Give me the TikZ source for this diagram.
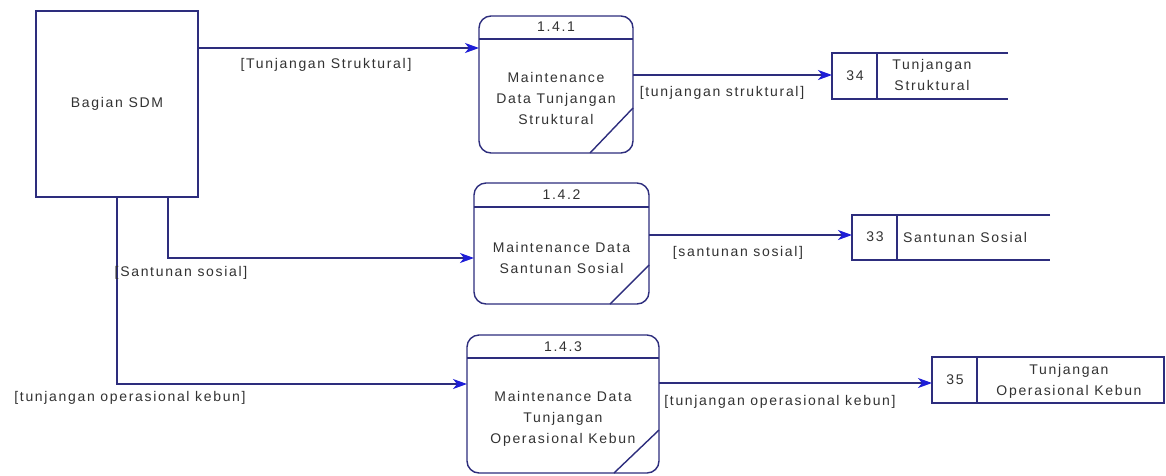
\documentclass[tikz,border=0pt]{standalone}
\usepackage{fontspec}
\setmainfont{Liberation Sans}[LetterSpace=12]
\usetikzlibrary{arrows.meta,calc}
\definecolor{ln}{RGB}{45,45,125}
\definecolor{ah}{RGB}{30,30,215}
\definecolor{tx}{RGB}{50,50,50}
\begin{document}
\begin{tikzpicture}[x=1pt,y=-1pt,
  every node/.style={font=\fontsize{14}{21}\selectfont, text=tx, inner sep=0pt, outer sep=0pt},
  line/.style={draw=ln, line width=1.4pt},
  flow/.style={draw=ln, line width=1.4pt, -{Stealth[length=14pt,width=10pt,inset=4pt,color=ah]}},
  proc/.style={draw=ln, line width=1.4pt, rectangle, rounded corners=12pt},
  ent/.style={draw=ln, line width=1.4pt, rectangle},
  store/.style={rectangle}]
\useasboundingbox (0,0) rectangle (1166,475);
\fill[white] (0,0) rectangle (1166,475);

% external entity
\node[ent, minimum width=162pt, minimum height=186pt] (sdm) at (117,104) {Bagian SDM};

% processes
\node[proc, minimum width=154pt, minimum height=137pt] (p1) at (556,84.5) {};
\draw[line] ($(p1.north west)+(0,23)$) -- ($(p1.north east)+(0,23)$);
\draw[line] ($(p1.south east)+(-43,0)$) -- ($(p1.south east)+(0,-45)$);
\node (p1id) at (556,27) {1.4.1};
\node[align=center] (p1t) at (556,98) {Maintenance\\Data Tunjangan\\Struktural};

\node[proc, minimum width=175pt, minimum height=121pt] (p2) at (561.5,243.5) {};
\draw[line] ($(p2.north west)+(0,24)$) -- ($(p2.north east)+(0,24)$);
\draw[line] ($(p2.south east)+(-39,0)$) -- ($(p2.south east)+(0,-39)$);
\node (p2id) at (561.5,195) {1.4.2};
\node[align=center] (p2t) at (561.5,257.5) {Maintenance Data\\Santunan Sosial};

\node[proc, minimum width=192pt, minimum height=138pt] (p3) at (563,404) {};
\draw[line] ($(p3.north west)+(0,23)$) -- ($(p3.north east)+(0,23)$);
\draw[line] ($(p3.south east)+(-45,0)$) -- ($(p3.south east)+(0,-43)$);
\node (p3id) at (563,347) {1.4.3};
\node[align=center] (p3t) at (563,419) {Maintenance Data\\Tunjangan\\Operasional Kebun};

% data stores
\node[store, minimum width=176pt, minimum height=46pt] (s34) at (920,76) {};
\draw[line] (s34.north east) -- (s34.north west) -- (s34.south west) -- (s34.south east);
\draw[line] ($(s34.north west)+(45,0)$) -- ($(s34.south west)+(45,0)$);
\node (s34n) at (855,76) {34};
\node[align=center] (s34t) at (932,75) {Tunjangan\\Struktural};

\node[store, minimum width=198pt, minimum height=45pt] (s33) at (951,237.5) {};
\draw[line] (s33.north east) -- (s33.north west) -- (s33.south west) -- (s33.south east);
\draw[line] ($(s33.north west)+(45,0)$) -- ($(s33.south west)+(45,0)$);
\node (s33n) at (875,237) {33};
\node (s33t) at (965,237) {Santunan Sosial};

\node[ent, minimum width=232pt, minimum height=46pt] (s35) at (1048,380) {};
\draw[line] ($(s35.north west)+(45,0)$) -- ($(s35.south west)+(45,0)$);
\node (s35n) at (955,380) {35};
\node[align=center] (s35t) at (1069,381) {Tunjangan\\Operasional Kebun};

% flows
\coordinate (y1) at (0,48);
\draw[flow] (sdm.east |- y1) -- (p1.west |- y1);
\coordinate (k2) at (168,258);
\draw[flow] (sdm.south -| k2) -- (k2) -- (p2.west |- k2);
\coordinate (k3) at (117,384);
\draw[flow] (sdm.south -| k3) -- (k3) -- (p3.west |- k3);
\coordinate (y4) at (0,75);
\draw[flow] (p1.east |- y4) -- (s34.west |- y4);
\coordinate (y5) at (0,235);
\draw[flow] (p2.east |- y5) -- (s33.west |- y5);
\coordinate (y6) at (0,383);
\draw[flow] (p3.east |- y6) -- (s35.west |- y6);

% flow labels
\node (l1) at (326,65) {[Tunjangan Struktural]};
\node (l2) at (181,273) {[Santunan sosial]};
\node (l3) at (130,398) {[tunjangan operasional kebun]};
\node (l4) at (722,93) {[tunjangan struktural]};
\node (l5) at (738,253) {[santunan sosial]};
\node (l6) at (780,402) {[tunjangan operasional kebun]};
\end{tikzpicture}
\end{document}
